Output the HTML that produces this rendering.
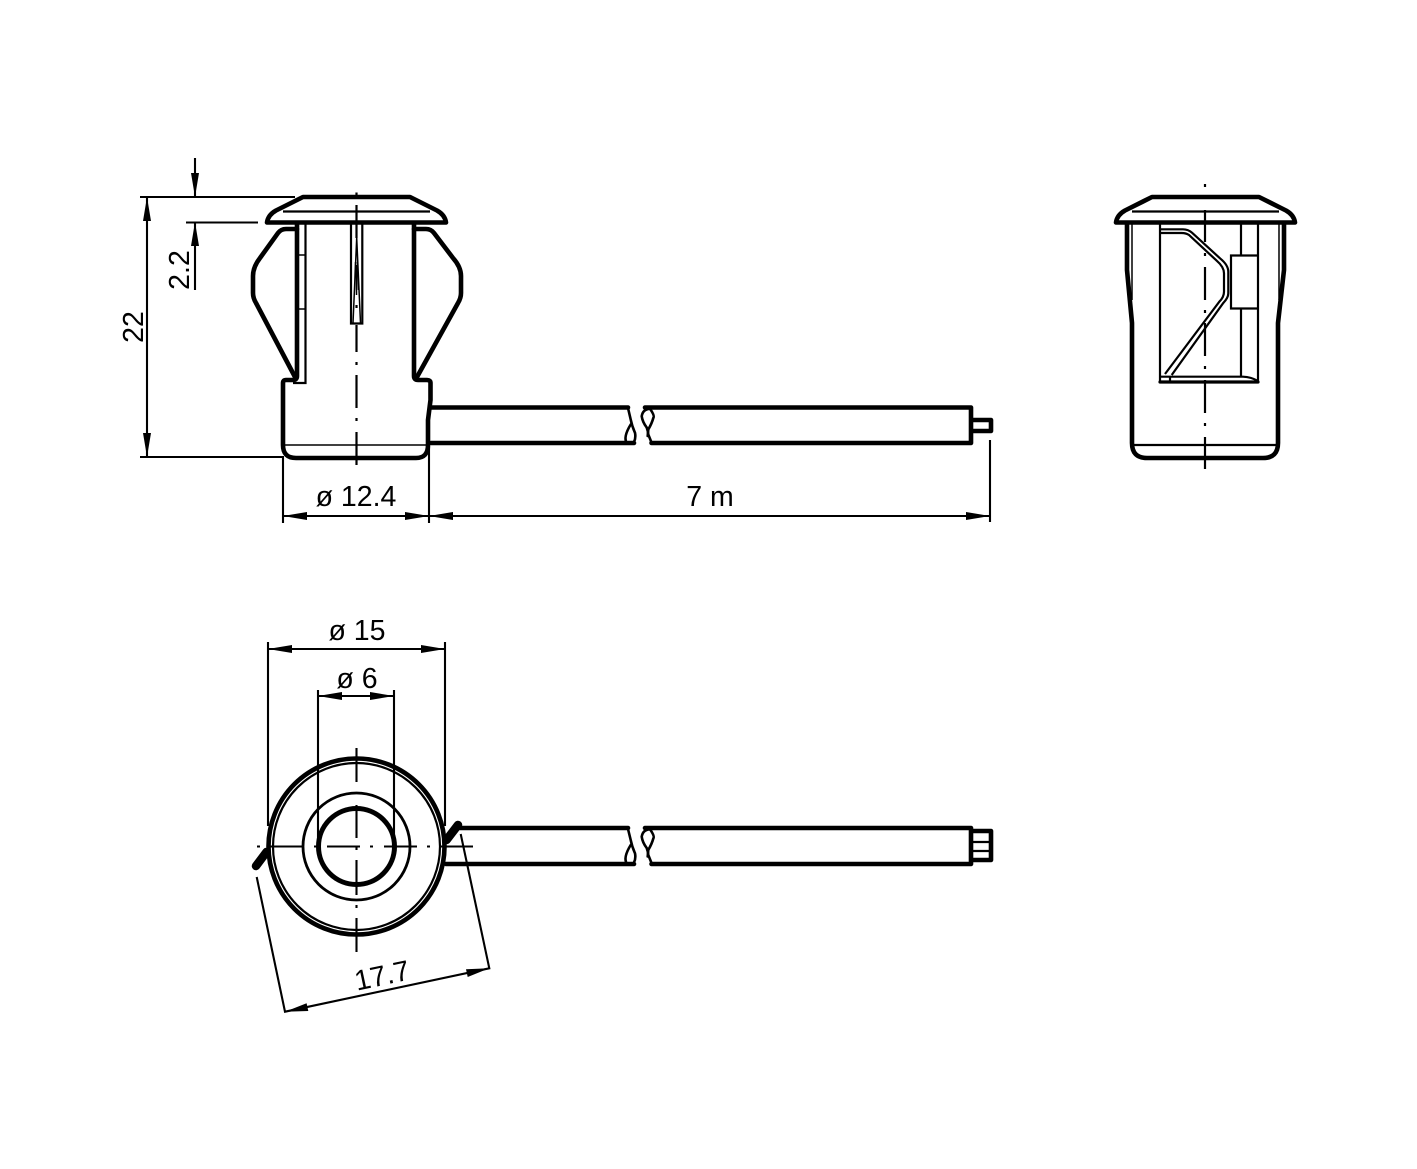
<!DOCTYPE html>
<html lang="en">
<head>
<meta charset="utf-8">
<title>Sensor dimensions</title>
<style>
html,body{margin:0;padding:0;background:#fff}
svg{display:block}
.k{fill:none;stroke:#000;stroke-width:4.6;stroke-linejoin:round;stroke-linecap:round}
.b{fill:none;stroke:#000;stroke-width:2.6;stroke-linecap:round}
.m{fill:none;stroke:#000;stroke-width:2.2}
.t{fill:none;stroke:#000;stroke-width:1.5}
.d{fill:none;stroke:#000;stroke-width:2.1}
.a{fill:#000;stroke:none}
text{font-family:"Liberation Sans",sans-serif;font-size:28.5px;fill:#000}
</style>
</head>
<body>
<svg width="1417" height="1169" viewBox="0 0 1417 1169" xmlns="http://www.w3.org/2000/svg">
<rect width="1417" height="1169" fill="#fff"/>

<!-- Front view -->
<path class="k" d="M303 197H410L437 210.500Q445 215 446 222.500H267Q268 215 276 210.500Z"/>
<path class="m" d="M283 211.500H430"/>
<path class="k" d="M297 229H286Q281 229 278 233L260 258Q253 267 253 276V293Q253 298 256 303L295 377"/>
<path class="k" d="M297 224V376Q297 380 293 380H286Q283 380 283 383V445Q283 458 296 458H416Q428 458 428 445V420L430.500 400V383Q430.500 380 427 380H418Q414 380 414 376V224"/>
<path class="k" d="M414 229H426Q431 229 434 233L453 258Q461 267 461 276V293Q461 298 458 303L417 377"/>
<path class="m" d="M305.500 224V383H293"/>
<path class="t" d="M297 255H305M297 309H305M284 445H428"/>
<path class="m" d="M351 224L351 323.500H362.300V224"/>
<path class="t" d="M356.700 238L353 323M356.700 238L360.500 323M355.500 262L354.500 290M357.500 262L358.500 290M356.500 265V295"/>
<path class="m" d="M356.500 192.500V195.500M356.500 205V238M356.500 305V308M356.500 325V352M356.500 362V365M356.500 375V408M356.500 418V421M356.500 432V465"/>

<!-- Cable, front -->
<path class="k" d="M431 407.500H628M431 443H634M645 407.500H971V443H651.500M972.500 420H991V431H972.500"/>
<path class="b" d="M628 408L630.700 419.500Q632 426 635 432.800Q636 438 634 442"/>
<path class="b" d="M630.700 424.500Q623 437 626.700 443"/>
<path class="b" d="M650 408.800Q643 409 641.700 416.200Q642.500 422 646.700 427.500Q648 431 648.300 434.500L651.700 443"/>
<path class="b" d="M650 408.800Q655 416 653.300 418Q652 423 648.300 429.500L647.700 436"/>

<!-- Dimensions, front -->
<path class="d" d="M140 197H295M140 457H284M147 197V457M195 158V197M195 222V290M186 222.500H258M283 458V523M429 446V523M990 440V522M283 516H990"/>
<polygon class="a" points="147,197 143,221 151,221"/>
<polygon class="a" points="147,457 143,433 151,433"/>
<polygon class="a" points="195,197 191,173 199,173"/>
<polygon class="a" points="195,222 191,246 199,246"/>
<polygon class="a" points="283,516 307,512 307,520"/>
<polygon class="a" points="429,516 405,512 405,520"/>
<polygon class="a" points="429,516 453,512 453,520"/>
<polygon class="a" points="990,516 966,512 966,520"/>
<text x="356" y="506" text-anchor="middle">ø 12.4</text>
<text x="710" y="506" text-anchor="middle">7 m</text>
<text transform="translate(143,327) rotate(-90)" text-anchor="middle">22</text>
<text transform="translate(189,270) rotate(-90)" text-anchor="middle">2.2</text>

<!-- Side view -->
<path class="k" d="M1152 197H1259L1286 210.500Q1294 215 1295 222.500H1116Q1117 215 1125 210.500Z"/>
<path class="m" d="M1132 211.500H1279"/>
<path class="k" d="M1127 224V270L1132 323V443Q1132 458 1147 458H1263Q1278 458 1278 443V323L1284 270V224"/>
<path class="t" d="M1132 224V300M1279 224V300"/>
<path class="m" d="M1132 445H1278"/>
<path class="m" d="M1160 224V382M1258 224V382M1241 224V255.500M1241 308.500V376M1231 255.500H1258V308.500H1231Z"/>
<path class="k" style="stroke-width:3.200" d="M1160 382H1258"/>
<path class="m" d="M1161 376.700H1243Q1251 377 1258 381M1170 377V382"/>
<path class="m" d="M1160 229.300H1183Q1188 229.300 1192 232.700L1220 258.300Q1228.300 265 1228.300 271.700V293.300Q1228.300 298 1223 303.300L1171.700 375"/>
<path class="m" d="M1160 233H1181.700Q1186 233 1189 235L1216.700 260.700Q1224 267 1224 273.300V291.700Q1224 297 1219.300 301.700L1165 374"/>
<path class="m" d="M1205 184V187M1205 210V242M1205 253V256M1205 267V300M1205 310V313M1205 323V356M1205 366V369M1205 380V413M1205 423V426M1205 437V469"/>

<!-- Bottom view -->
<circle class="k" cx="356.500" cy="846.500" r="88"/>
<circle class="m" cx="356.500" cy="846.500" r="83.500"/>
<circle class="m" cx="356.500" cy="846.500" r="53.500" style="stroke-width:2.800"/>
<circle class="k" cx="356.500" cy="846.500" r="38" style="stroke-width:5"/>
<path class="d" d="M356.500 748V782M356.500 805V838M356.500 847V850M356.500 860V895M356.500 905V908M356.500 918V952"/>
<path class="d" d="M257 846.500H260M270 846.500H303M314 846.500H317M327 846.500H360M370 846.500H373M384 846.500H417M427 846.500H430M440 846.500H473"/>
<path d="M256 866L266.500 852M446.500 840L458 825" fill="none" stroke="#000" stroke-width="8.500" stroke-linecap="round"/>

<!-- Cable, bottom -->
<path class="k" d="M460 828H628M446 864H634M645 828H971V864H651.500M972.500 831H991V860H972.500"/>
<path class="b" d="M628 829L630.700 840Q632 846.500 635 853.300Q636 858.500 634 862.500"/>
<path class="b" d="M630.700 845Q623 857.500 626.700 863.500"/>
<path class="b" d="M650 829.300Q643 829.500 641.700 836.700Q642.500 842.500 646.700 848Q648 851.500 648.300 855L651.700 863.500"/>
<path class="b" d="M650 829.300Q655 836.500 653.300 838.500Q652 843.500 648.300 850L647.700 856.500"/>
<path class="m" d="M972 842H990M972 851H990"/>

<!-- Dimensions, bottom -->
<path class="d" d="M268 642V826M445 642V826M318 690V846M394 690V846M268 649H445M318 696H394"/>
<polygon class="a" points="268,649 292,645 292,653"/>
<polygon class="a" points="445,649 421,645 421,653"/>
<polygon class="a" points="318,696 342,692 342,700"/>
<polygon class="a" points="394,696 370,692 370,700"/>
<path class="d" d="M256.700 877L285 1011.700L489.300 968.300L460.700 834"/>
<polygon class="a" points="285,1011.700 308.300,1011 306.600,1003.200"/>
<polygon class="a" points="489.300,968.300 467.700,977 466,969.200"/>
<text x="357" y="640" text-anchor="middle">ø 15</text>
<text x="357" y="688" text-anchor="middle">ø 6</text>
<text transform="translate(384,985) rotate(-12)" text-anchor="middle">17.7</text>
</svg>
</body>
</html>
